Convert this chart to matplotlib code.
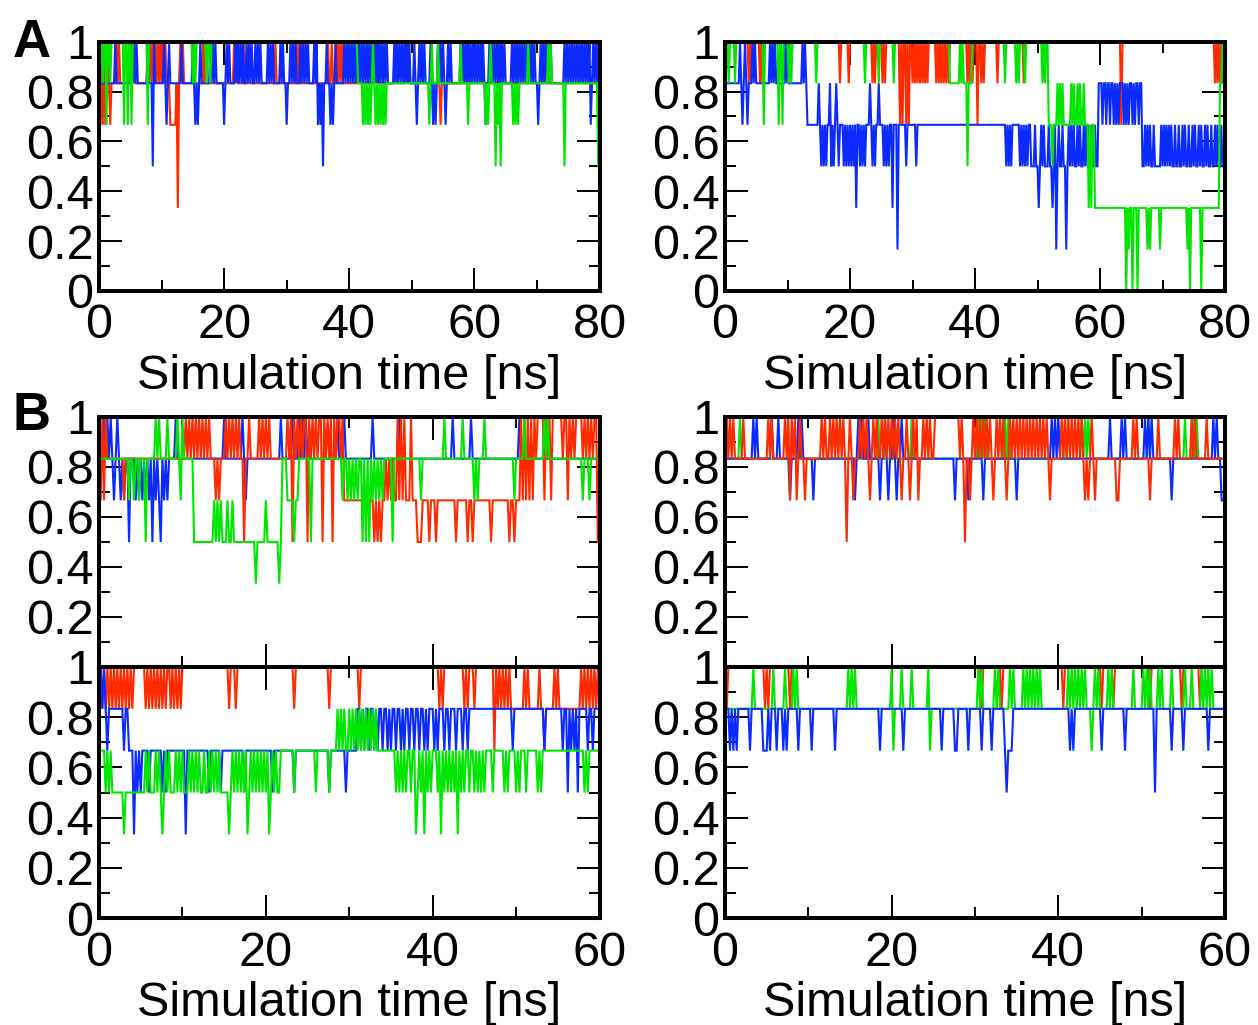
import numpy as np
import matplotlib
matplotlib.use("Agg")
import matplotlib.pyplot as plt
from matplotlib.ticker import MultipleLocator, FuncFormatter

plt.rcParams['font.family'] = ['Liberation Sans', 'DejaVu Sans']

# ---------------------------------------------------------------
# Data: levels are in units of 1/6 (6 = 1.0, 5 = 0.833, 4 = 0.667,
# 3 = 0.5, 2 = 0.333, 1 = 0.167, 0 = 0).
# *_base   : (start time [ns], level) step segments
# *_spk    : {level: [times of one-sample excursions]}
# ---------------------------------------------------------------
T_A = 80
T_B = 60

# ---------------- Panel A, left ----------------
al_red_base = [(0, 5), (11.4, 4), (12.4, 5)]
al_red_spk = {
    6: [0.4, 0.8, 1.4, 2.8, 3.2, 4.8, 5.2, 5.6, 7.8, 8.2, 8.6, 9.0, 9.4, 9.8, 10.2, 10.6,
        13.0, 13.4, 16.6, 17.0, 21.6, 22.0, 23.2, 28.2, 31.6, 32.0, 36.6, 37.2, 38.0, 38.4,
        38.8, 41.4, 44.2, 44.6, 47.4, 49.0, 49.4, 54.2, 58.6, 59.0, 61.2, 64.0, 71.4],
    4: [0.2, 0.6, 1.0, 1.8, 54.6],
    2: [12.6],
}
al_blue_base = [(0, 5)]
al_blue_spk = {
    6: [2.6, 5.2, 5.6, 6.0, 7.8, 8.8, 10.4, 11.2, 13.2, 15.0, 16.2, 17.8, 18.2, 18.6, 20.4,
        20.8, 21.8, 22.2, 22.6, 23.0, 23.6, 24.0, 24.4, 25.0, 25.4, 25.8, 27.0, 27.4, 27.8,
        29.0, 29.4, 30.6, 31.0, 31.4, 32.2, 32.6, 33.0, 33.4, 34.4, 34.8, 36.4, 37.8, 39.2,
        39.6, 40.0, 40.4, 40.8, 41.2, 41.6, 42.0, 42.4, 42.8, 43.2, 43.6, 44.0, 44.4, 44.8,
        45.2, 45.6, 46.0, 47.2, 47.6, 48.0, 48.4, 48.8, 49.2, 49.6, 50.4, 51.2, 51.6, 52.0,
        53.0, 54.2, 54.6, 55.0, 55.8, 56.2, 57.8, 58.2, 58.6, 59.0, 59.4, 59.8, 60.2, 60.6,
        61.0, 61.4, 62.4, 62.8, 63.2, 63.6, 64.0, 64.4, 64.8, 66.0, 66.4, 66.8, 67.2, 67.6,
        68.0, 68.4, 68.8, 69.2, 69.6, 70.6, 71.0, 71.4, 71.8, 72.2, 74.4, 74.8, 75.2, 75.6,
        76.0, 76.4, 76.8, 77.2, 77.6, 78.0, 78.4, 79.0, 79.4, 79.8],
    4: [10.8, 15.4, 15.8, 20.0, 30.0, 35.0, 35.4, 37.0, 37.4, 50.8, 53.4, 53.8, 55.4, 61.8,
        70.2, 78.6],
    3: [8.6, 35.8],
}
al_green_base = [(0, 6), (41.4, 5), (79.8, 3)]
al_green_spk = {
    5: [0.6, 1.8, 15.0, 15.4, 17.2, 17.8],
    4: [1.2, 4.0, 4.6, 5.2, 7.8, 42.2, 42.6, 43.0, 43.4, 44.2, 44.6, 45.0, 45.4, 45.8, 52.8,
        59.0, 61.8, 62.2, 63.8, 66.2, 66.6, 67.0],
    6: [43.8, 53.2, 54.2, 57.8, 62.6, 68.6, 71.8, 72.2],
    3: [63.4, 64.2, 74.4],
}

# ---------------- Panel A, right ----------------
ar_red_base = [(0, 6)]
ar_red_spk = {
    5: [3.8, 4.2, 5.6, 6.0, 18.4, 19.8, 23.6, 24.0, 25.2, 25.6, 30.0, 30.4, 30.8, 31.2, 31.6,
        32.0, 32.4, 33.8, 34.2, 34.6, 35.0, 35.4, 35.8, 38.8, 39.2, 39.6, 41.0, 41.4, 43.6,
        47.8, 78.4, 78.8, 79.2, 79.6],
    4: [28.0, 28.4, 29.0, 29.4, 40.4, 63.4],
}
ar_blue_base = [(0, 5), (13.2, 4), (49.0, 3), (59.8, 5), (66.8, 3)]
ar_blue_spk = {
    6: [2.4, 3.2, 4.4, 4.8, 7.2, 7.6, 8.0, 9.6, 10.0, 12.4, 12.8],
    5: [15.0, 16.8, 17.8, 23.2, 24.6],
    4: [2.8, 3.6, 49.6, 50.6, 51.0, 51.8, 52.8, 53.4, 54.0, 55.0, 55.4, 55.8, 56.4, 56.8,
        57.4, 57.8, 58.2, 58.6, 59.2, 60.4, 61.0, 61.6, 62.2, 62.6, 63.0, 63.8, 64.2, 64.6,
        65.2, 65.6, 66.2, 67.2, 67.6, 68.0, 68.6, 69.8, 70.2, 70.6, 71.0, 71.4, 72.0, 72.6,
        73.2, 73.6, 74.2, 74.8, 75.2, 75.8, 76.2, 76.8, 77.2, 77.8, 78.4, 78.8, 79.4],
    3: [15.4, 15.8, 16.2, 17.0, 17.4, 18.2, 19.0, 19.4, 19.8, 20.2, 20.6, 21.6, 22.0, 22.4,
        23.6, 24.0, 25.4, 25.8, 26.2, 29.0, 30.6, 45.0, 45.4, 45.8, 47.2, 47.6, 48.0, 48.4],
    2: [21.0, 26.8, 50.2, 52.4],
    1: [27.6, 53.0, 54.6],
}
ar_green_base = [(0, 6), (35.9, 5), (39.6, 6), (51.8, 4), (59.2, 2), (79.2, 5), (79.6, 6)]
ar_green_spk = {
    5: [0.6, 1.6, 10.2, 10.6, 14.6, 22.4, 24.6, 27.0, 44.8, 46.6, 47.0, 48.0, 50.8, 51.2,
        53.2, 53.6, 54.0, 55.4, 55.8, 56.4, 56.8, 57.4],
    4: [6.2, 8.6, 9.2],
    6: [37.6, 38.0],
    3: [38.8, 52.4],
    2: [58.2, 58.6],
    1: [64.6, 67.6, 68.0, 69.6, 74.0],
    0: [64.2, 65.2, 66.0, 74.4, 76.2],
}

# ---------------- Panel B, left, upper ----------------
blt_blue_base = [(0, 5)]
blt_blue_spk = {
    6: [0.6, 1.0, 1.4, 2.2, 9.2, 15.0, 17.2, 21.8, 23.2, 24.0, 24.4, 24.8, 28.6, 29.4, 32.8,
        36.0, 42.4, 44.6, 50.4],
    4: [1.8, 2.6, 3.0, 4.4, 4.8, 5.2, 5.6, 6.0, 6.8, 7.2, 7.8, 8.2, 17.6],
    3: [3.6, 6.4, 7.4],
}
blt_red_base = [(0, 5), (22.6, 6), (29.4, 4), (50.6, 6), (59.8, 3)]
blt_red_spk = {
    6: [0.4, 0.8, 10.4, 10.8, 11.2, 11.6, 12.0, 12.4, 12.8, 13.2, 15.2, 15.6, 16.0, 16.4,
        16.8, 18.0, 19.2, 19.6, 20.0, 20.4, 35.8, 36.2, 36.6, 37.4],
    4: [0.2, 0.6, 3.0, 14.0, 14.4, 50.8, 51.2, 51.6, 52.0, 53.4, 54.2, 56.2],
    5: [22.8, 23.6, 24.0, 24.4, 25.4, 25.8, 26.2, 27.2, 27.6, 28.4, 29.0, 34.4, 34.8, 35.2,
        52.4, 53.8, 55.6, 56.6, 57.0, 58.0, 58.4, 58.8, 59.2],
    3: [17.4, 23.2, 25.0, 26.8, 28.0, 33.0, 33.4, 33.8, 38.2, 38.4, 38.6, 39.6, 40.4, 42.8,
        44.2, 44.8, 47.0, 49.2, 49.8],
}
blt_green_base = [(0, 5), (11.4, 3), (21.9, 5), (22.6, 4), (24.0, 5)]
blt_green_spk = {
    4: [3.6, 4.2, 4.8, 9.8, 13.8, 14.2, 14.6, 15.4, 16.0, 20.0, 29.2, 29.8, 30.2, 30.6, 31.0,
        32.8, 33.2, 33.6, 34.0, 38.6, 45.0, 45.4, 49.8, 58.0, 58.8],
    3: [5.6, 23.4, 25.4, 31.6, 32.0, 32.4, 35.2],
    6: [6.8, 7.2, 8.2, 9.4, 10.0, 41.4, 43.6, 46.2, 51.0, 53.4, 53.8],
    2: [18.8, 21.6],
}

# ---------------- Panel B, left, lower ----------------
blb_red_base = [(0, 6), (49.4, 5)]
blb_red_spk = {
    5: [0.4, 0.8, 1.2, 1.6, 2.0, 2.4, 2.8, 3.2, 3.6, 4.0, 5.6, 6.0, 6.4, 6.8, 7.2, 7.6, 8.0,
        8.6, 9.0, 9.4, 9.8, 15.6, 16.4, 23.4, 27.6, 31.2, 40.8, 41.2, 43.8, 44.2, 45.0,
        47.8, 48.2, 48.6, 49.0],
    4: [47.4, 53.4],
    6: [51.0, 51.4, 52.8, 54.6, 55.0, 57.8, 58.2, 58.6, 59.0, 59.4, 59.8],
}
blb_blue_base = [(0, 5), (3.6, 4), (31.0, 5)]
blb_blue_spk = {
    6: [0.2, 0.6],
    4: [1.0, 3.0, 31.4, 31.8, 32.4, 33.0, 33.4, 34.0, 34.6, 35.0, 35.6, 36.2, 36.6, 37.2,
        37.8, 38.4, 39.0, 39.4, 40.2, 40.6, 41.4, 42.0, 42.8, 43.6, 44.2, 49.6, 53.4, 55.6,
        56.6, 57.0, 58.6, 59.2],
    3: [4.6, 5.0, 6.0, 7.6, 8.0, 13.2, 14.6, 17.4, 20.8, 23.4, 27.6, 29.6, 56.2, 57.4],
    2: [4.2, 10.4],
}
blb_green_base = [(0, 4), (0.8, 3), (21.8, 4)]
blb_green_spk = {
    4: [1.0, 1.4, 5.6, 6.0, 6.8, 7.2, 8.0, 8.4, 9.2, 9.6, 10.0, 10.8, 11.2, 11.6, 12.0, 12.6,
        13.2, 13.6, 14.0, 14.4, 16.0, 16.4, 16.8, 17.2, 17.6, 18.2, 18.6, 19.0, 19.4, 19.8,
        20.2, 20.8, 21.2],
    2: [3.0, 7.6, 15.6, 17.8, 20.4, 38.0, 39.0, 41.0, 43.0],
    3: [23.4, 26.0, 27.6, 35.6, 36.0, 36.4, 36.8, 37.4, 38.2, 38.6, 39.4, 39.8, 40.6, 41.4,
        41.8, 42.2, 42.6, 43.4, 43.8, 44.4, 45.0, 45.4, 45.8, 46.2, 47.2, 48.6, 49.0, 50.0,
        50.4, 51.2, 52.6, 53.0, 58.2, 58.6],
    5: [28.6, 29.0, 29.4, 30.0, 30.4, 30.8, 31.2, 31.6, 32.0, 32.4, 32.8, 33.2],
}

# ---------------- Panel B, right, upper ----------------
brt_green_base = [(0, 5)]
brt_green_spk = {
    6: [1.8, 18.4, 22.4, 30.4, 30.8, 31.2, 33.6, 34.0, 40.8, 42.8, 43.2, 43.6, 50.8, 55.2,
        56.2, 56.6],
}
brt_blue_base = [(0, 5), (59.6, 4)]
brt_blue_spk = {
    6: [3.4, 3.8, 5.6, 6.4, 8.8, 9.2, 16.0, 16.4, 17.2, 19.2, 20.2, 21.2, 39.2, 39.6, 40.0,
        46.2, 47.6, 48.0, 50.4, 50.8, 51.2, 58.6, 59.0],
    4: [7.8, 10.6, 15.6, 18.6, 19.6, 20.6, 27.6, 29.2, 31.0, 35.0, 53.6],
}
brt_red_base = [(0, 5), (25.2, 6), (28.2, 5)]
brt_red_spk = {
    6: [0.2, 0.6, 1.0, 2.2, 5.2, 5.6, 7.2, 7.6, 8.0, 8.4, 9.0, 11.6, 12.0, 12.6, 13.0, 13.4,
        13.8, 14.2, 15.0, 16.2, 16.6, 17.0, 17.8, 18.2, 18.8, 19.2, 19.6, 20.0, 20.4, 20.8,
        21.8, 22.6, 23.0, 23.8, 24.2, 24.6, 28.4, 29.8, 30.2, 30.6, 31.0, 31.4, 31.8, 32.6,
        33.0, 33.4, 34.2, 34.6, 35.0, 35.4, 35.8, 36.2, 36.6, 37.0, 37.4, 37.8, 38.2, 38.6,
        40.4, 40.8, 41.2, 41.6, 42.0, 42.4, 42.8, 44.0, 49.0, 49.4, 52.0, 54.0, 54.4, 56.0,
        56.4, 57.8],
    4: [7.8, 8.6, 9.6, 15.4, 17.4, 21.2, 22.2, 23.2, 29.4, 32.2, 33.8, 39.0, 43.2, 43.6,
        44.4, 47.0, 47.2, 51.0],
    3: [14.6, 28.8],
}

# ---------------- Panel B, right, lower ----------------
brb_red_base = [(0, 6)]
brb_red_spk = {
    5: [0.2, 4.8, 5.2, 7.8, 30.8, 33.2, 40.6, 45.2, 46.6, 51.0, 54.8, 57.0],
}
brb_green_base = [(0, 5)]
brb_green_spk = {
    6: [3.4, 5.8, 7.2, 8.2, 8.6, 14.8, 15.2, 15.6, 20.0, 21.2, 22.4, 24.4, 30.4, 30.8, 32.4,
        32.8, 34.2, 34.6, 35.8, 36.2, 36.6, 37.0, 37.4, 37.8, 41.2, 41.6, 42.0, 42.4, 42.8,
        43.2, 44.4, 44.8, 46.0, 46.4, 49.0, 50.2, 50.6, 51.0, 52.0, 52.4, 53.6, 55.2, 56.0,
        57.2, 57.6, 58.0, 58.4],
    4: [20.2, 24.6, 44.0],
}
brb_blue_base = [(0, 5)]
brb_blue_spk = {
    4: [0.6, 1.0, 1.4, 3.0, 4.6, 4.8, 5.0, 5.4, 6.2, 7.0, 7.4, 8.8, 10.4, 13.2, 18.6, 21.4,
        26.0, 27.6, 27.8, 29.2, 30.8, 32.0, 33.6, 34.0, 34.2, 34.4, 41.4, 41.8, 45.2, 48.0,
        53.6, 55.0, 58.0],
    3: [33.8, 51.6],
}

x_ticks_A = [0, 20, 40, 60, 80]
x_ticks_B = [0, 20, 40, 60]
y_ticks = [0, 0.2, 0.4, 0.6, 0.8, 1.0]
x_label = 'Simulation time [ns]'

RED, GREEN, BLUE = '#ff2a00', '#00e600', '#0a2aff'
DT = 0.2


def series(T, base, spikes, dt=DT):
    n = int(round(T / dt)) + 1
    t = np.arange(n) * dt
    y = np.zeros(n)
    for t0, lv in base:
        y[t >= t0 - 1e-6] = lv
    for lv, times in spikes.items():
        for s in times:
            i = int(round(s / dt))
            if 0 <= i < n:
                y[i] = lv
    return t, y / 6.0


W, H = 1258, 1025
fig = plt.figure(figsize=(W / 100, H / 100), dpi=100)


def add_ax(x0, y0, x1, y1):
    return fig.add_axes([x0 / W, 1 - y1 / H, (x1 - x0) / W, (y1 - y0) / H])


def fmt_y(skip0):
    def f(v, p):
        if skip0 and abs(v) < 1e-9:
            return ''
        return '%g' % round(v, 3)
    return FuncFormatter(f)


def style(ax, T, xticks, xlabels=True, skip0=False):
    ax.set_xlim(0, T)
    ax.set_ylim(0, 1)
    ax.set_xticks(xticks)
    ax.xaxis.set_minor_locator(MultipleLocator(10))
    ax.set_yticks(y_ticks)
    ax.yaxis.set_minor_locator(MultipleLocator(0.1))
    ax.yaxis.set_major_formatter(fmt_y(skip0))
    ax.xaxis.set_major_formatter(FuncFormatter(lambda v, p: '%g' % v))
    ax.tick_params(which='both', direction='in', top=True, right=True,
                   width=1.4, labelsize=35, color='black')
    ax.tick_params(which='major', length=16.5)
    ax.tick_params(which='minor', length=8)
    ax.tick_params(axis='y', pad=4)
    ax.tick_params(axis='x', pad=9)
    if not xlabels:
        ax.tick_params(axis='x', labelbottom=False)
    else:
        ax.set_xlabel(x_label, fontsize=35, labelpad=4)
    for sp in ax.spines.values():
        sp.set_linewidth(2.9)


def draw(ax, T, items):
    for base, spk, col in items:
        t, y = series(T, base, spk)
        ax.plot(t, y, color=col, lw=1.5, solid_joinstyle='miter', clip_on=True)


LX0, LX1 = 99, 599.5
RX0, RX1 = 725, 1225

ax = add_ax(LX0, 41.7, LX1, 291)
draw(ax, T_A, [(al_red_base, al_red_spk, RED), (al_blue_base, al_blue_spk, BLUE),
               (al_green_base, al_green_spk, GREEN)])
style(ax, T_A, x_ticks_A)

ax = add_ax(RX0, 41.7, RX1, 291)
draw(ax, T_A, [(ar_red_base, ar_red_spk, RED), (ar_blue_base, ar_blue_spk, BLUE),
               (ar_green_base, ar_green_spk, GREEN)])
style(ax, T_A, x_ticks_A)

ax = add_ax(LX0, 417, LX1, 667)
draw(ax, T_B, [(blt_blue_base, blt_blue_spk, BLUE), (blt_red_base, blt_red_spk, RED),
               (blt_green_base, blt_green_spk, GREEN)])
style(ax, T_B, x_ticks_B, xlabels=False, skip0=True)

ax = add_ax(LX0, 667, LX1, 918)
draw(ax, T_B, [(blb_red_base, blb_red_spk, RED), (blb_blue_base, blb_blue_spk, BLUE),
               (blb_green_base, blb_green_spk, GREEN)])
style(ax, T_B, x_ticks_B)

ax = add_ax(RX0, 417, RX1, 667)
draw(ax, T_B, [(brt_green_base, brt_green_spk, GREEN), (brt_blue_base, brt_blue_spk, BLUE),
               (brt_red_base, brt_red_spk, RED)])
style(ax, T_B, x_ticks_B, xlabels=False, skip0=True)

ax = add_ax(RX0, 667, RX1, 918)
draw(ax, T_B, [(brb_red_base, brb_red_spk, RED), (brb_green_base, brb_green_spk, GREEN),
               (brb_blue_base, brb_blue_spk, BLUE)])
style(ax, T_B, x_ticks_B)

fig.text(13 / W, 1 - 57 / H, 'A', fontsize=38, fontweight='bold', ha='left', va='baseline')
fig.text(13 / W, 1 - 430 / H, 'B', fontsize=38, fontweight='bold', ha='left', va='baseline')

fig.savefig('out.png', dpi=100)
